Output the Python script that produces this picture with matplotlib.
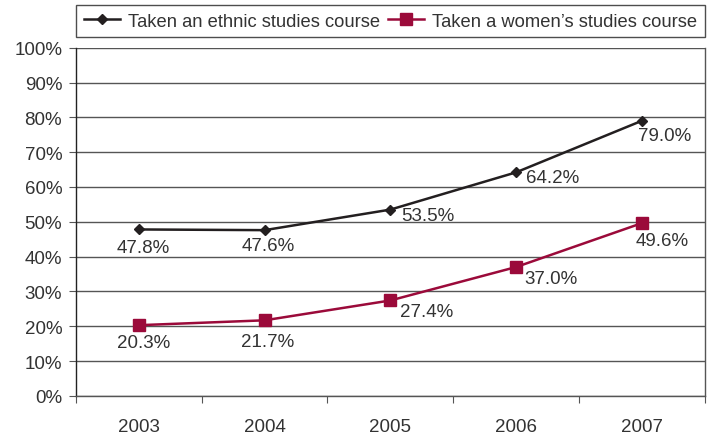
import matplotlib
matplotlib.use("Agg")
import matplotlib.pyplot as plt

plt.rcParams["font.family"] = ["Liberation Sans", "DejaVu Sans"]

years = ["2003", "2004", "2005", "2006", "2007"]
ethnic = [47.8, 47.6, 53.5, 64.2, 79.0]
womens = [20.3, 21.7, 27.4, 37.0, 49.6]
ethnic_name = "Taken an ethnic studies course"
womens_name = "Taken a women\u2019s studies course"

# label offsets in pixels (dx, dy), dy negative = below
ethnic_offsets = [(4, -18), (4, -15), (37, -6), (37, -5), (23, -15)]
womens_offsets = [(5, -17), (3, -21), (36, -11), (35, -11), (20, -17)]

text_color = "#333333"
ethnic_color = "#231f20"
womens_color = "#9b0a3a"
fs = 13.5

fig = plt.figure(figsize=(7.11, 4.39), dpi=100)
ax = fig.add_axes([0.107, 0.096, 0.884, 0.793])

x = list(range(len(years)))
ax.plot(x, ethnic, color=ethnic_color, lw=1.8, marker="D", ms=5.5,
        label=ethnic_name, zorder=3)
ax.plot(x, womens, color=womens_color, lw=1.8, marker="s", ms=8,
        label=womens_name, zorder=3)

for xi, v, (dx, dy) in zip(x, ethnic, ethnic_offsets):
    ax.annotate(f"{v:.1f}%", (xi, v), xytext=(dx, dy), textcoords="offset pixels",
                ha="center", va="center", fontsize=fs, color=text_color)
for xi, v, (dx, dy) in zip(x, womens, womens_offsets):
    ax.annotate(f"{v:.1f}%", (xi, v), xytext=(dx, dy), textcoords="offset pixels",
                ha="center", va="center", fontsize=fs, color=text_color)

ax.set_xlim(-0.5, len(years) - 0.5)
ax.set_ylim(0, 100)
ax.set_yticks(range(0, 101, 10))
ax.set_yticklabels([f"{t}%" for t in range(0, 101, 10)])
ax.yaxis.grid(True, color="#555555", lw=1)
ax.set_axisbelow(True)

# categories between tick marks
ax.set_xticks([i + 0.5 for i in range(-1, len(years))])
ax.set_xticklabels([])
ax.set_xticks(x, minor=True)
ax.set_xticklabels(years, minor=True)
ax.tick_params(axis="x", which="minor", length=0, pad=16, labelsize=fs,
               labelcolor=text_color)
ax.tick_params(axis="x", which="major", length=5, color="#555555")
ax.tick_params(axis="y", length=5, color="#555555", labelsize=fs,
               labelcolor=text_color, pad=5)

for side in ["top", "right", "bottom", "left"]:
    ax.spines[side].set_color("#555555")
    ax.spines[side].set_linewidth(1)
ax.spines["top"].set_visible(False)
ax.spines["left"].set_color("#222222")

leg = ax.legend(loc="lower left", bbox_to_anchor=(0, 1.03, 1, 0.1), mode="expand",
                ncol=2, frameon=True, fancybox=False, fontsize=13.2,
                handlelength=2.0, handletextpad=0.4, borderaxespad=0,
                borderpad=0.42, labelcolor=text_color)
leg.get_frame().set_edgecolor("#222222")
leg.get_frame().set_linewidth(1)

fig.savefig("out.png", dpi=100)
